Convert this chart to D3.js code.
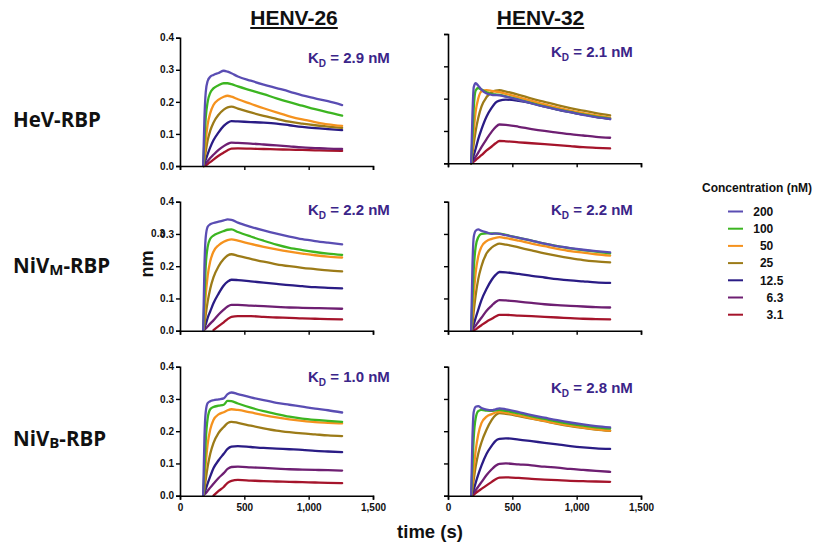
<!DOCTYPE html>
<html><head><meta charset="utf-8">
<script src="https://cdn.jsdelivr.net/npm/d3@7"></script>
<style>body{margin:0;background:#fff} svg{display:block}</style>
</head><body>
<svg id="c" width="815" height="545"></svg>
<script>
// ---- data ----
const times = [180, 190, 200, 215, 235, 260, 300, 340, 370, 400, 450, 550, 650, 750, 850, 950, 1050, 1150, 1260];
const concentrations = ["200", "100", "50", "25", "12.5", "6.3", "3.1"];
const antibodies = ["HENV-26", "HENV-32"];
const kdValues = [["2.9", "2.1"], ["2.2", "2.2"], ["1.0", "2.8"]];
const xTicks = [0, 500, 1000, 1500];
const yTicks = [0, 0.1, 0.2, 0.3, 0.4];

// HeV-RBP, HENV-26
const hev26_200 = [0, 0.15, 0.23, 0.265, 0.278, 0.284, 0.29, 0.297, 0.294, 0.289, 0.279, 0.266, 0.254, 0.243, 0.232, 0.22, 0.211, 0.202, 0.19];
const hev26_100 = [0, 0.08, 0.15, 0.2, 0.228, 0.242, 0.252, 0.258, 0.258, 0.255, 0.248, 0.236, 0.224, 0.211, 0.199, 0.188, 0.177, 0.167, 0.157];
const hev26_50 = [0, 0.04, 0.08, 0.13, 0.165, 0.19, 0.207, 0.216, 0.219, 0.216, 0.208, 0.194, 0.18, 0.167, 0.155, 0.145, 0.137, 0.13, 0.125];
const hev26_25 = [0, 0.02, 0.045, 0.08, 0.11, 0.135, 0.16, 0.176, 0.183, 0.185, 0.179, 0.167, 0.156, 0.147, 0.138, 0.132, 0.127, 0.123, 0.119];
const hev26_12 = [0, 0.01, 0.02, 0.037, 0.058, 0.08, 0.105, 0.125, 0.135, 0.14, 0.139, 0.137, 0.135, 0.132, 0.127, 0.122, 0.118, 0.115, 0.112];
const hev26_6 = [0, 0.004, 0.008, 0.015, 0.025, 0.035, 0.05, 0.062, 0.069, 0.073, 0.072, 0.07, 0.067, 0.064, 0.061, 0.058, 0.056, 0.054, 0.053];
const hev26_3 = [null, 0, 0.002, 0.006, 0.012, 0.02, 0.032, 0.042, 0.049, 0.054, 0.055, 0.054, 0.053, 0.052, 0.051, 0.05, 0.049, 0.048, 0.047];

// HeV-RBP, HENV-32
const hev32_200 = [0, 0.15, 0.235, 0.248, 0.24, 0.228, 0.216, 0.212, 0.211, 0.21, 0.206, 0.196, 0.185, 0.175, 0.166, 0.158, 0.15, 0.143, 0.137];
const hev32_100 = [0, 0.08, 0.17, 0.225, 0.233, 0.228, 0.22, 0.214, 0.213, 0.212, 0.207, 0.197, 0.186, 0.176, 0.167, 0.159, 0.151, 0.144, 0.138];
const hev32_50 = [0, 0.05, 0.1, 0.16, 0.2, 0.222, 0.226, 0.224, 0.222, 0.22, 0.215, 0.204, 0.193, 0.182, 0.172, 0.163, 0.155, 0.148, 0.141];
const hev32_25 = [0, 0.03, 0.06, 0.1, 0.14, 0.175, 0.205, 0.22, 0.225, 0.226, 0.222, 0.212, 0.2, 0.19, 0.18, 0.171, 0.163, 0.155, 0.148];
const hev32_12 = [0, 0.01, 0.025, 0.045, 0.075, 0.105, 0.145, 0.172, 0.188, 0.194, 0.197, 0.193, 0.186, 0.176, 0.166, 0.158, 0.151, 0.144, 0.137];
const hev32_6 = [0, 0.004, 0.01, 0.02, 0.033, 0.05, 0.075, 0.098, 0.112, 0.12, 0.119, 0.113, 0.106, 0.1, 0.095, 0.09, 0.086, 0.082, 0.079];
const hev32_3 = [0, 0.002, 0.005, 0.01, 0.017, 0.025, 0.04, 0.052, 0.062, 0.069, 0.068, 0.065, 0.062, 0.059, 0.056, 0.053, 0.05, 0.048, 0.046];

// NiVM-RBP, HENV-26
const nivm26_200 = [0, 0.2, 0.29, 0.322, 0.33, 0.334, 0.338, 0.342, 0.345, 0.344, 0.335, 0.322, 0.311, 0.301, 0.292, 0.284, 0.278, 0.273, 0.268];
const nivm26_100 = [0, 0.1, 0.2, 0.26, 0.285, 0.295, 0.303, 0.309, 0.313, 0.314, 0.306, 0.292, 0.279, 0.267, 0.257, 0.25, 0.244, 0.239, 0.235];
const nivm26_50 = [0, 0.05, 0.11, 0.17, 0.215, 0.245, 0.265, 0.276, 0.281, 0.283, 0.279, 0.269, 0.26, 0.252, 0.245, 0.239, 0.234, 0.23, 0.227];
const nivm26_25 = [0, 0.02, 0.05, 0.09, 0.13, 0.165, 0.2, 0.222, 0.233, 0.237, 0.232, 0.223, 0.214, 0.206, 0.2, 0.195, 0.191, 0.187, 0.184];
const nivm26_12 = [0, 0.01, 0.02, 0.04, 0.06, 0.085, 0.115, 0.14, 0.152, 0.158, 0.157, 0.153, 0.149, 0.145, 0.141, 0.138, 0.135, 0.133, 0.131];
const nivm26_6 = [0, 0.003, 0.007, 0.013, 0.022, 0.032, 0.05, 0.065, 0.075, 0.08, 0.08, 0.078, 0.076, 0.074, 0.072, 0.071, 0.07, 0.069, 0.068];
const nivm26_3 = [null, null, null, null, null, 0.002, 0.014, 0.026, 0.036, 0.043, 0.045, 0.045, 0.043, 0.041, 0.04, 0.038, 0.037, 0.036, 0.035];

// NiVM-RBP, HENV-32
const nivm32_200 = [0, 0.2, 0.29, 0.31, 0.314, 0.31, 0.305, 0.3, 0.302, 0.3, 0.296, 0.288, 0.279, 0.27, 0.262, 0.256, 0.251, 0.247, 0.243];
const nivm32_100 = [0, 0.1, 0.19, 0.26, 0.29, 0.3, 0.302, 0.302, 0.301, 0.301, 0.297, 0.288, 0.279, 0.27, 0.262, 0.255, 0.25, 0.245, 0.24];
const nivm32_50 = [0, 0.05, 0.11, 0.18, 0.23, 0.26, 0.278, 0.285, 0.288, 0.29, 0.287, 0.279, 0.27, 0.262, 0.254, 0.247, 0.242, 0.237, 0.233];
const nivm32_25 = [0, 0.02, 0.06, 0.11, 0.16, 0.2, 0.24, 0.258, 0.266, 0.27, 0.267, 0.258, 0.249, 0.24, 0.232, 0.225, 0.219, 0.215, 0.212];
const nivm32_12 = [0, 0.01, 0.02, 0.04, 0.065, 0.095, 0.13, 0.158, 0.173, 0.182, 0.181, 0.176, 0.17, 0.165, 0.16, 0.156, 0.153, 0.15, 0.148];
const nivm32_6 = [0, 0.003, 0.008, 0.016, 0.027, 0.04, 0.062, 0.078, 0.089, 0.095, 0.094, 0.09, 0.086, 0.082, 0.079, 0.077, 0.075, 0.073, 0.072];
const nivm32_3 = [null, null, 0, 0.004, 0.01, 0.017, 0.028, 0.037, 0.044, 0.049, 0.049, 0.047, 0.045, 0.043, 0.041, 0.039, 0.037, 0.036, 0.035];

// NiVB-RBP, HENV-26
const nivb26_200 = [0, 0.18, 0.26, 0.287, 0.293, 0.296, 0.299, 0.302, 0.315, 0.32, 0.315, 0.305, 0.296, 0.288, 0.282, 0.276, 0.27, 0.265, 0.258];
const nivb26_100 = [0, 0.08, 0.17, 0.24, 0.268, 0.275, 0.279, 0.282, 0.294, 0.293, 0.286, 0.273, 0.262, 0.253, 0.245, 0.239, 0.235, 0.232, 0.229];
const nivb26_50 = [0, 0.05, 0.1, 0.16, 0.205, 0.235, 0.252, 0.259, 0.265, 0.268, 0.266, 0.258, 0.25, 0.243, 0.237, 0.232, 0.228, 0.226, 0.224];
const nivb26_25 = [0, 0.02, 0.05, 0.09, 0.13, 0.163, 0.195, 0.213, 0.225, 0.229, 0.226, 0.217, 0.209, 0.202, 0.197, 0.193, 0.19, 0.187, 0.185];
const nivb26_12 = [0, 0.01, 0.02, 0.038, 0.06, 0.085, 0.11, 0.13, 0.145, 0.152, 0.154, 0.151, 0.148, 0.146, 0.144, 0.142, 0.139, 0.137, 0.135];
const nivb26_6 = [0, 0.004, 0.008, 0.015, 0.025, 0.037, 0.055, 0.07, 0.083, 0.089, 0.09, 0.088, 0.086, 0.084, 0.082, 0.081, 0.08, 0.079, 0.078];
const nivb26_3 = [null, null, null, null, null, 0, 0.015, 0.027, 0.04, 0.046, 0.049, 0.047, 0.045, 0.044, 0.043, 0.042, 0.041, 0.04, 0.039];

// NiVB-RBP, HENV-32
const nivb32_200 = [0, 0.18, 0.26, 0.276, 0.278, 0.272, 0.267, 0.265, 0.268, 0.271, 0.268, 0.259, 0.25, 0.242, 0.234, 0.227, 0.221, 0.216, 0.212];
const nivb32_100 = [0, 0.09, 0.18, 0.24, 0.262, 0.266, 0.264, 0.263, 0.265, 0.266, 0.263, 0.255, 0.246, 0.238, 0.23, 0.223, 0.217, 0.212, 0.208];
const nivb32_50 = [0, 0.04, 0.08, 0.14, 0.19, 0.225, 0.245, 0.253, 0.258, 0.26, 0.257, 0.249, 0.24, 0.232, 0.224, 0.217, 0.211, 0.206, 0.202];
const nivb32_25 = [0, 0.02, 0.05, 0.09, 0.13, 0.165, 0.205, 0.235, 0.25, 0.256, 0.254, 0.247, 0.239, 0.231, 0.223, 0.216, 0.21, 0.205, 0.201];
const nivb32_12 = [0, 0.01, 0.02, 0.04, 0.065, 0.093, 0.13, 0.155, 0.17, 0.176, 0.178, 0.174, 0.169, 0.164, 0.159, 0.154, 0.15, 0.147, 0.145];
const nivb32_6 = [0, 0.004, 0.009, 0.017, 0.028, 0.042, 0.064, 0.082, 0.093, 0.099, 0.1, 0.097, 0.094, 0.09, 0.087, 0.083, 0.08, 0.077, 0.074];
const nivb32_3 = [null, 0, 0.003, 0.008, 0.014, 0.021, 0.032, 0.043, 0.051, 0.056, 0.057, 0.055, 0.052, 0.05, 0.048, 0.046, 0.045, 0.044, 0.043];

// ---- style / layout ----
const colors = ["#5a4db3", "#3cb521", "#f5921e", "#9c7b18", "#2a1c85", "#6e1f72", "#a5142b"];
const kdColor = "#3b2589";
const font = "'Liberation Sans', Arial, Helvetica, sans-serif";
const rowFont = "'Open Sans', 'Noto Sans', sans-serif";

const panels = [
  {r: 0, c: 0, series: [hev26_200, hev26_100, hev26_50, hev26_25, hev26_12, hev26_6, hev26_3], x0: 180, yb: 166, yt: 37.7, kx: 308, ky: 63},
  {r: 0, c: 1, series: [hev32_200, hev32_100, hev32_50, hev32_25, hev32_12, hev32_6, hev32_3], x0: 448, yb: 163.3, yt: 34, kx: 551, ky: 57},
  {r: 1, c: 0, series: [nivm26_200, nivm26_100, nivm26_50, nivm26_25, nivm26_12, nivm26_6, nivm26_3], x0: 180, yb: 330.7, yt: 201.7, kx: 308, ky: 215},
  {r: 1, c: 1, series: [nivm32_200, nivm32_100, nivm32_50, nivm32_25, nivm32_12, nivm32_6, nivm32_3], x0: 448, yb: 330.7, yt: 201.7, kx: 551, ky: 215},
  {r: 2, c: 0, series: [nivb26_200, nivb26_100, nivb26_50, nivb26_25, nivb26_12, nivb26_6, nivb26_3], x0: 180, yb: 495.7, yt: 366.7, kx: 308, ky: 382},
  {r: 2, c: 1, series: [nivb32_200, nivb32_100, nivb32_50, nivb32_25, nivb32_12, nivb32_6, nivb32_3], x0: 448, yb: 495.7, yt: 366.7, kx: 551, ky: 393}
];
const panelW = 193;

const svg = d3.select("#c");

panels.forEach(p => {
  const x = d3.scaleLinear().domain([0, 1500]).range([p.x0, p.x0 + panelW]);
  const y = d3.scaleLinear().domain([0, 0.4]).range([p.yb, p.yt]);
  const g = svg.append("g");

  const line = d3.line()
    .defined(d => d[1] !== null)
    .x(d => x(d[0])).y(d => y(d[1]))
    .curve(d3.curveMonotoneX);
  for (let i = p.series.length - 1; i >= 0; i--) {
    const pts = times.map((t, j) => [t, p.series[i][j]]);
    g.append("path").attr("d", line(pts))
      .attr("fill", "none").attr("stroke", colors[i])
      .attr("stroke-width", 2.3).attr("stroke-linejoin", "round").attr("stroke-linecap", "round");
  }

  const yAxis = d3.axisLeft(y).tickValues(yTicks).tickSize(4).tickPadding(2)
    .tickFormat(p.c === 0 ? d3.format(".1f") : () => "");
  const xAxis = d3.axisBottom(x).tickValues(xTicks).tickSize(4).tickPadding(4)
    .tickFormat(p.r === 2 ? d3.format(",") : () => "");

  const ya = g.append("g").attr("transform", `translate(${p.x0},0)`).call(yAxis);
  const xa = g.append("g").attr("transform", `translate(0,${p.yb})`).call(xAxis);
  [ya, xa].forEach(a => {
    a.select(".domain").attr("stroke", "#000").attr("stroke-width", 1.6);
    a.selectAll(".tick line").attr("stroke", "#000").attr("stroke-width", 1.4);
    a.selectAll("text").attr("fill", "#111").attr("font-family", font)
      .attr("font-size", 10).attr("font-weight", "bold");
  });

  // duplicated "0.3" label seen in the NiVM / HENV-26 panel of the original
  if (p.r === 1 && p.c === 0) {
    g.append("text").attr("x", p.x0 - 15).attr("y", y(0.3)).attr("dy", "0.32em")
      .attr("text-anchor", "end").attr("font-family", font).attr("font-size", 10)
      .attr("font-weight", "bold").attr("fill", "#111").text("0.3");
  }

  const kd = g.append("text").attr("x", p.kx).attr("y", p.ky)
    .attr("font-family", font).attr("font-weight", "bold").attr("fill", kdColor).attr("font-size", 15);
  kd.append("tspan").text("K");
  kd.append("tspan").attr("font-size", 10).attr("dy", 4).text("D");
  kd.append("tspan").attr("dy", -4).text(` = ${kdValues[p.r][p.c]} nM`);
});

// column titles
const titleX = [294, 540.5];
antibodies.forEach((t, i) => {
  const tx = svg.append("text").attr("x", titleX[i]).attr("y", 25).attr("text-anchor", "middle")
    .attr("font-family", font).attr("font-weight", "bold").attr("font-size", 21).attr("fill", "#111").text(t);
  const bb = tx.node().getBBox();
  svg.append("line").attr("x1", bb.x).attr("x2", bb.x + bb.width).attr("y1", 28).attr("y2", 28)
    .attr("stroke", "#111").attr("stroke-width", 2);
});

// row labels
const rowY = [127, 273, 446];
const rowLabels = [["HeV-RBP", ""], ["NiV", "M"], ["NiV", "B"]];
rowLabels.forEach((lab, i) => {
  const t = svg.append("text").attr("x", 13).attr("y", rowY[i]).attr("font-family", rowFont)
    .attr("font-weight", "bold").attr("font-size", 20.5).attr("fill", "#111");
  if (lab[1] === "") { t.text(lab[0]); }
  else {
    t.append("tspan").text(lab[0]);
    t.append("tspan").attr("font-size", 15).attr("dy", 2).text(lab[1]);
    t.append("tspan").attr("dy", -2).text("-RBP");
  }
});

// axis titles
svg.append("text").attr("transform", "translate(153,264) rotate(-90)").attr("text-anchor", "middle")
  .attr("font-family", font).attr("font-weight", "bold").attr("font-size", 18).attr("fill", "#111").text("nm");
svg.append("text").attr("x", 430).attr("y", 538).attr("text-anchor", "middle")
  .attr("font-family", font).attr("font-weight", "bold").attr("font-size", 18.5).attr("fill", "#111").text("time (s)");

// legend
svg.append("text").attr("x", 702).attr("y", 192).attr("font-family", font).attr("font-weight", "bold")
  .attr("font-size", 12).attr("fill", "#111").text("Concentration (nM)");
concentrations.forEach((c, i) => {
  const ly = 211.5 + i * 17.2;
  svg.append("line").attr("x1", 728).attr("x2", 743).attr("y1", ly).attr("y2", ly)
    .attr("stroke", colors[i]).attr("stroke-width", 2);
  const parts = c.split(".");
  svg.append("text").attr("x", 773.3).attr("y", ly + 4.3).attr("text-anchor", "end")
    .attr("font-family", font).attr("font-weight", "bold").attr("font-size", 12).attr("fill", "#111").text(parts[0]);
  if (parts.length > 1) {
    svg.append("text").attr("x", 773.3).attr("y", ly + 4.3)
      .attr("font-family", font).attr("font-weight", "bold").attr("font-size", 12).attr("fill", "#111").text("." + parts[1]);
  }
});
</script>
</body></html>
